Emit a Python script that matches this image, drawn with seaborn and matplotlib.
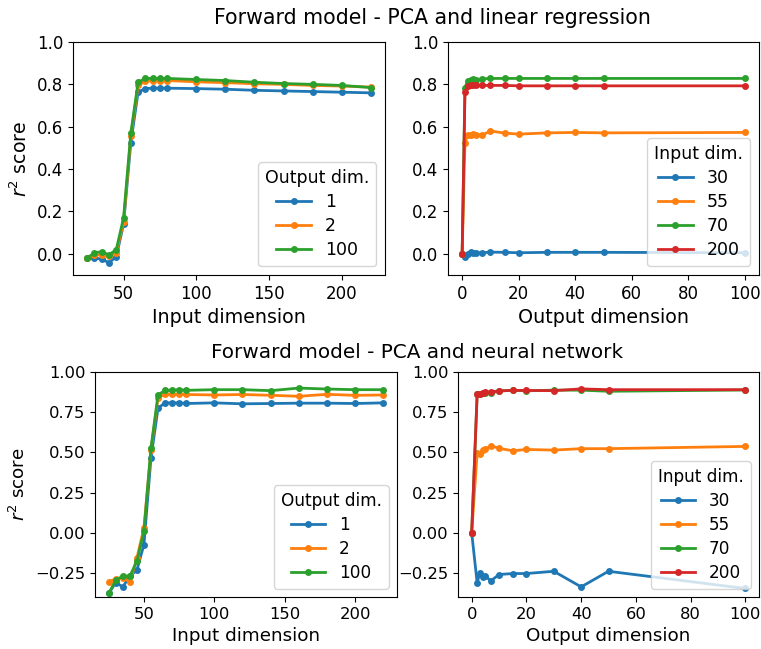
import numpy as np
import pandas as pd
import matplotlib
matplotlib.use("Agg")
import matplotlib.pyplot as plt
import seaborn as sns

# ---------------- data ----------------
input_dims = [25, 30, 35, 40, 45, 50, 55, 60, 65, 70, 75, 80, 100, 120, 140, 160, 180, 200, 220]
output_dims_lr = [0, 1, 2, 3, 4, 5, 7, 10, 15, 20, 30, 40, 50, 100]
output_dims_nn = [0, 2, 3, 4, 5, 7, 10, 15, 20, 30, 40, 50, 100]

out_dim_labels = ["1", "2", "100"]
in_dim_labels = ["30", "55", "70", "200"]

# PCA + linear regression, vs input dimension
lr_in_out1 = [-0.02, -0.02, -0.025, -0.042, -0.013, 0.14, 0.525, 0.764, 0.78, 0.782, 0.782, 0.782,
              0.78, 0.777, 0.772, 0.769, 0.766, 0.763, 0.76]
lr_in_out2 = [-0.018, -0.005, -0.005, -0.01, 0.005, 0.15, 0.555, 0.795, 0.815, 0.817, 0.815, 0.818,
              0.812, 0.808, 0.803, 0.8, 0.795, 0.792, 0.787]
lr_in_out100 = [-0.02, 0.005, 0.01, -0.005, 0.02, 0.17, 0.57, 0.81, 0.828, 0.828, 0.828, 0.828,
                0.823, 0.818, 0.81, 0.804, 0.8, 0.795, 0.785]

# PCA + linear regression, vs output dimension
lr_out_in30 = [0.0, -0.015, 0.0, 0.007, 0.005, 0.005, 0.005, 0.008, 0.007, 0.005, 0.007, 0.007, 0.007, 0.005]
lr_out_in55 = [0.0, 0.525, 0.56, 0.56, 0.567, 0.563, 0.56, 0.58, 0.57, 0.565, 0.571, 0.573, 0.571, 0.573]
lr_out_in70 = [0.0, 0.785, 0.818, 0.822, 0.825, 0.822, 0.826, 0.828, 0.828, 0.828, 0.828, 0.828, 0.828, 0.828]
lr_out_in200 = [0.0, 0.765, 0.79, 0.795, 0.795, 0.795, 0.795, 0.795, 0.795, 0.793, 0.793, 0.793, 0.793, 0.793]

# PCA + neural network, vs input dimension
nn_in_out1 = [-0.378, -0.31, -0.337, -0.27, -0.233, -0.074, 0.465, 0.775, 0.808, 0.808, 0.808, 0.804,
              0.808, 0.802, 0.804, 0.806, 0.806, 0.804, 0.808]
nn_in_out2 = [-0.306, -0.287, -0.28, -0.306, -0.157, 0.029, 0.514, 0.84, 0.86, 0.86, 0.86, 0.86,
              0.857, 0.86, 0.855, 0.849, 0.861, 0.855, 0.857]
nn_in_out100 = [-0.378, -0.295, -0.27, -0.27, -0.178, 0.01, 0.527, 0.857, 0.886, 0.886, 0.89, 0.886,
                0.89, 0.89, 0.884, 0.9, 0.894, 0.89, 0.89]

# PCA + neural network, vs output dimension
nn_out_in30 = [0.0, -0.312, -0.248, -0.275, -0.27, -0.3, -0.26, -0.254, -0.254, -0.24, -0.337, -0.24, -0.347]
nn_out_in55 = [0.0, 0.496, 0.49, 0.514, 0.52, 0.541, 0.525, 0.51, 0.518, 0.514, 0.523, 0.523, 0.537]
nn_out_in70 = [0.0, 0.86, 0.865, 0.868, 0.87, 0.868, 0.882, 0.886, 0.883, 0.887, 0.887, 0.88, 0.888]
nn_out_in200 = [0.0, 0.862, 0.865, 0.872, 0.873, 0.877, 0.882, 0.886, 0.885, 0.884, 0.895, 0.89, 0.89]

title_top = "Forward model - PCA and linear regression"
title_bot = "Forward model - PCA and neural network"


def long_df(x, series, labels, name):
    rows = []
    for lab, ys in zip(labels, series):
        for xv, yv in zip(x, ys):
            rows.append({"x": xv, "y": yv, name: lab})
    return pd.DataFrame(rows)


plt.rcParams.update({"font.family": ["DejaVu Sans"]})

fig = plt.figure(figsize=(7.61, 6.49), dpi=100)
W, H = 761, 649


def add_ax(l, t, r, b):
    return fig.add_axes([l / W, 1 - b / H, (r - l) / W, (b - t) / H])


ax_tl = add_ax(73, 42, 385, 275)
ax_tr = add_ax(448, 42, 759, 275)
ax_bl = add_ax(95, 372, 397, 597)
ax_br = add_ax(458, 372, 759, 597)

palette = sns.color_palette("tab10")

# (ticks, labels, legend) font sizes per row
top_fs = (12, 13.7, 12.5)
bot_fs = (11.8, 13.2, 12.2)

panels = [
    (ax_tl, input_dims, [lr_in_out1, lr_in_out2, lr_in_out100], out_dim_labels, "Output dim.", "Input dimension", (-0.1, 1.0), top_fs),
    (ax_tr, output_dims_lr, [lr_out_in30, lr_out_in55, lr_out_in70, lr_out_in200], in_dim_labels, "Input dim.", "Output dimension", (-0.1, 1.0), top_fs),
    (ax_bl, input_dims, [nn_in_out1, nn_in_out2, nn_in_out100], out_dim_labels, "Output dim.", "Input dimension", (-0.4, 1.0), bot_fs),
    (ax_br, output_dims_nn, [nn_out_in30, nn_out_in55, nn_out_in70, nn_out_in200], in_dim_labels, "Input dim.", "Output dimension", (-0.4, 1.0), bot_fs),
]

for ax, x, series, labels, legtitle, xlabel, ylim, fs in panels:
    df = long_df(x, series, labels, legtitle)
    sns.lineplot(data=df, x="x", y="y", hue=legtitle, hue_order=labels,
                 palette=palette[:len(labels)], ax=ax,
                 marker="o", markersize=5, markeredgewidth=0, linewidth=2)
    ax.set_ylim(*ylim)
    ax.set_xlabel(xlabel, fontsize=fs[1])
    ax.set_ylabel("")
    ax.tick_params(labelsize=fs[0])
    ax.legend(title=legtitle, loc="lower right", fontsize=fs[2], title_fontsize=fs[2],
              labelspacing=0.35)

ax_tl.set_yticks([0.0, 0.2, 0.4, 0.6, 0.8, 1.0])
ax_tr.set_yticks([0.0, 0.2, 0.4, 0.6, 0.8, 1.0])
ax_bl.set_yticks([-0.25, 0.0, 0.25, 0.5, 0.75, 1.0])
ax_br.set_yticks([-0.25, 0.0, 0.25, 0.5, 0.75, 1.0])
ax_tl.set_yticklabels(["0.0", "0.2", "0.4", "0.6", "0.8", "1.0"])
ax_tr.set_yticklabels(["0.0", "0.2", "0.4", "0.6", "0.8", "1.0"])
ax_bl.set_yticklabels(["\u22120.25", "0.00", "0.25", "0.50", "0.75", "1.00"])
ax_br.set_yticklabels(["\u22120.25", "0.00", "0.25", "0.50", "0.75", "1.00"])
ax_tl.set_xticks([50, 100, 150, 200])
ax_bl.set_xticks([50, 100, 150, 200])
ax_tr.set_xticks([0, 20, 40, 60, 80, 100])
ax_br.set_xticks([0, 20, 40, 60, 80, 100])

ax_tl.set_ylabel("$r^2$ score", fontsize=top_fs[1])
ax_bl.set_ylabel("$r^2$ score", fontsize=bot_fs[1])

fig.text(432 / W, 1 - 18 / H, title_top, ha="center", va="center", fontsize=14.8)
fig.text(417 / W, 1 - 352 / H, title_bot, ha="center", va="center", fontsize=14.4)

fig.savefig("out.png", dpi=100)
